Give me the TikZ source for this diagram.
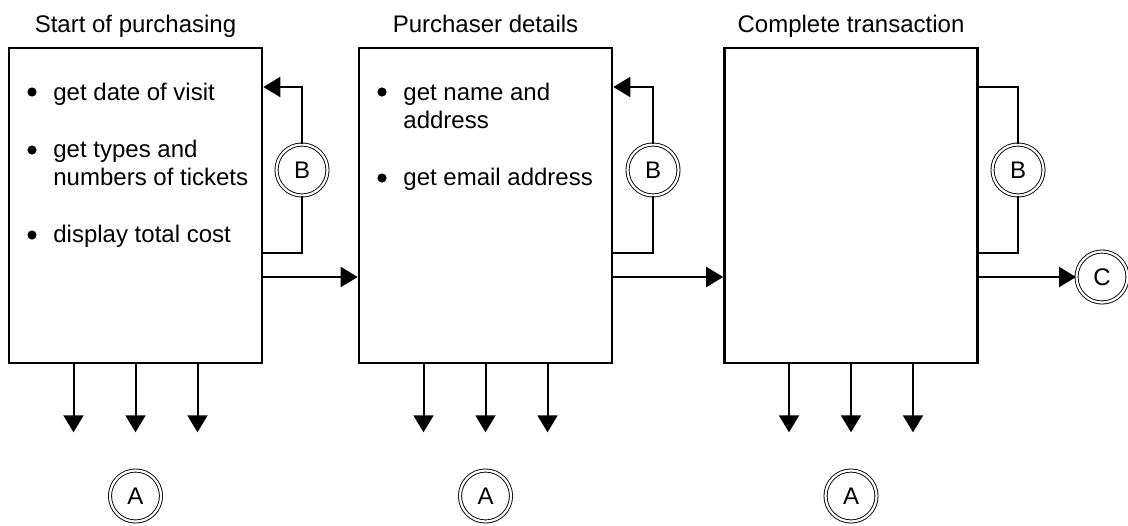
\documentclass[tikz,border=0pt]{standalone}
\usepackage{fontspec}
\setmainfont{Liberation Sans}
\usetikzlibrary{arrows.meta,positioning,calc}

\begin{document}
\begin{tikzpicture}[x=0.5pt, y=-0.5pt,
  font=\fontsize{12pt}{14pt}\selectfont,
  stage/.style={draw=black, line width=1.3pt, minimum width=126.5pt, minimum height=157.5pt, inner sep=0},
  title/.style={inner sep=0, anchor=base},
  item/.style={inner sep=0, anchor=base west},
  dot/.style={circle, fill=black, minimum size=4.6pt, inner sep=0},
  conn/.style={circle, draw=black, double, double distance=1.1pt, line width=0.45pt, minimum size=25.5pt, inner sep=0},
  flow/.style={line width=1pt, -{Triangle[length=8.5pt,width=10pt]}},
  link/.style={line width=1pt}]
  \useasboundingbox (0,0) rectangle (1128,525);

  \node (start) [stage] at (135.5,205.5) {};
  \node (details) [stage] at (485.5,205.5) {};
  \node (complete) [stage] at (851,205.5) {};

  \node (startT) [title] at (135.5,32) {Start of purchasing};
  \node (detailsT) [title] at (485.5,32) {Purchaser details};
  \node (completeT) [title] at (851,32) {Complete transaction};

  % first stage
  \node (s1d) [dot] at (32,92) {};
  \node (s1) [item] at (53,100) {get date of visit};
  \node (s2d) [dot] at (32,150) {};
  \node (s2) [item] at (53,157) {get types and};
  \node (s2b) [item] at (53,185) {numbers of tickets};
  \node (s3d) [dot] at (32,235) {};
  \node (s3) [item] at (53,242) {display total cost};

  % second stage
  \node (d1d) [dot] at (382,92) {};
  \node (d1) [item] at (403,100) {get name and};
  \node (d1b) [item] at (403,128) {address};
  \node (d2d) [dot] at (382,178) {};
  \node (d2) [item] at (403,185) {get email address};

  \node (b1) [conn] at (302,170) {B};
  \node (b2) [conn] at (653,170) {B};
  \node (b3) [conn] at (1018,170) {B};
  \node (c) [conn] at (1102,277) {C};
  \node (a1) [conn] at (135.5,496) {A};
  \node (a2) [conn] at (485.5,496) {A};
  \node (a3) [conn] at (851,496) {A};

  \draw [link] ($(start.east)+(0,47.5)$) -| (b1.south);
  \draw [flow] (b1.north) |- ($(start.east)+(0,-118.5)$);
  \draw [link] ($(details.east)+(0,47.5)$) -| (b2.south);
  \draw [flow] (b2.north) |- ($(details.east)+(0,-118.5)$);
  \draw [link] ($(complete.east)+(0,47.5)$) -| (b3.south);
  \draw [link] (b3.north) |- ($(complete.east)+(0,-118.5)$);

  \draw [flow] ($(start.east)+(0,71.5)$) -- ($(details.west)+(0,71.5)$);
  \draw [flow] ($(details.east)+(0,71.5)$) -- ($(complete.west)+(0,71.5)$);
  \draw [flow] ($(complete.east)+(0,71.5)$) -- (c);

  \foreach \stg in {start,details,complete}
    \foreach \dx in {-62,0,62}
      \draw [flow] ($(\stg.south)+(\dx,0)$) -- ++(0,68);
\end{tikzpicture}
\end{document}
